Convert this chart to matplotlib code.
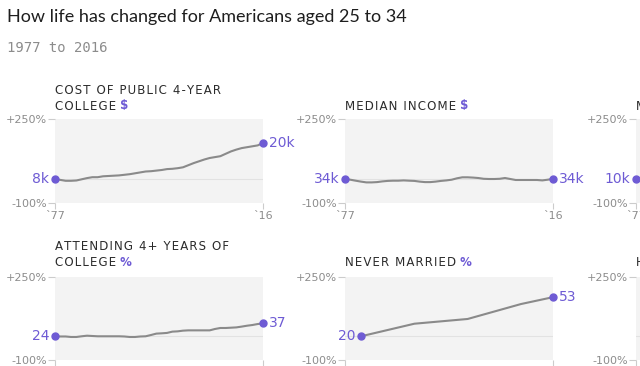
import matplotlib
matplotlib.use('Agg')
import matplotlib.pyplot as plt

W, H = 640, 366
PURPLE = '#6E5BD4'
LINE = '#8a8a8a'
HAIR = '\u200a'

years = list(range(1977, 2017))

# cost of public 4-year college, thousands of $
college_cost = [8.0, 7.7, 7.4, 7.4, 7.5, 7.9, 8.3, 8.6, 8.6, 8.9,
                9.0, 9.1, 9.2, 9.4, 9.6, 9.9, 10.2, 10.5, 10.6, 10.8,
                11.0, 11.3, 11.4, 11.6, 11.9, 12.6, 13.3, 13.9, 14.5, 15.0,
                15.3, 15.6, 16.4, 17.2, 17.8, 18.3, 18.6, 18.9, 19.2, 20.0]

# median income, thousands of $
median_income = [34.0, 33.0, 31.6, 30.3, 29.2, 29.2, 29.6, 30.6, 31.3, 31.6,
                 31.6, 32.0, 31.6, 31.3, 30.3, 29.6, 29.6, 30.3, 31.3, 32.0,
                 33.0, 35.0, 36.4, 36.4, 36.0, 35.4, 34.3, 34.0, 34.0, 34.3,
                 35.4, 34.0, 32.6, 32.6, 32.6, 32.6, 32.6, 32.0, 33.0, 34.2]

# attending 4+ years of college, %
attending = [24.0, 23.8, 23.8, 23.3, 23.3, 24.0, 24.6, 24.3, 24.0, 24.0,
             24.0, 24.0, 24.0, 23.8, 23.3, 23.3, 23.8, 24.0, 25.3, 26.7,
             27.0, 27.4, 28.7, 29.0, 29.7, 30.0, 30.0, 30.0, 30.0, 30.0,
             31.4, 32.4, 32.4, 32.7, 33.0, 33.8, 34.7, 35.4, 36.4, 37.0]

# never married, %
married_years = [1980, 1990, 2000, 2010, 2016]
never_married = [20.0, 30.6, 34.6, 47.2, 53.0]

# third column, only its first point shows at the edge
third_years = [1977]
third_values = [10.0]


def px(x, y):
    return x / W, 1 - y / H


def fmt(v, unit):
    if unit == '$':
        return '%.0fk' % v
    return '%.0f' % v


def spaced(s):
    # fake letter spacing with hair spaces
    return HAIR.join(s)


def panel(left, top, bottom, xs, vals, unit, title_lines, title_y,
          show_end=True):
    ax = fig.add_axes([left / W, 1 - bottom / H, 208 / W, (bottom - top) / H])
    ax.set_facecolor('#f3f3f3')
    for s in ax.spines.values():
        s.set_visible(False)
    ax.set_xlim(1977, 2016)
    ax.set_ylim(-100, 250)
    ax.axhline(0, color='#e2e2e2', lw=0.8, zorder=1)
    ax.set_yticks([-100, 250])
    ax.set_yticklabels(['-100%', '+250%'])
    ax.set_xticks([1977, 2016])
    ax.set_xticklabels(['`77', '`16'])
    ax.tick_params(axis='y', length=5, color='#cccccc', labelcolor='#8c8c8c',
                   labelsize=8, pad=1)
    ax.tick_params(axis='x', length=4, color='#cccccc', labelcolor='#8c8c8c',
                   labelsize=8, pad=2)

    if xs is not None:
        v0 = vals[0]
        pct = [(v / v0 - 1) * 100 for v in vals]
        ax.plot(xs, pct, color=LINE, lw=1.5, zorder=2, clip_on=False)
        ax.plot(xs[0], pct[0], 'o', color=PURPLE, ms=5, zorder=3, clip_on=False)
        ax.annotate(fmt(vals[0], unit), (xs[0], pct[0]), xytext=(-4, 0),
                    textcoords='offset points', ha='right', va='center',
                    color=PURPLE, fontsize=10, annotation_clip=False)
        if show_end:
            ax.plot(xs[-1], pct[-1], 'o', color=PURPLE, ms=5, zorder=3,
                    clip_on=False)
            ax.annotate(fmt(vals[-1], unit), (xs[-1], pct[-1]), xytext=(4, 0),
                        textcoords='offset points', ha='left', va='center',
                        color=PURPLE, fontsize=10, annotation_clip=False)

    # panel title, unit sign in purple
    n = len(title_lines)
    for i, line in enumerate(title_lines):
        y = title_y - (n - 1 - i) * 16
        t = fig.text(*px(left, y), spaced(line), ha='left', va='center',
                     fontsize=8.5, color='#2b2b2b')
        if i == n - 1 and unit:
            ax.annotate(' ' + unit, xy=(1, 0.5), xycoords=t,
                        ha='left', va='center', fontsize=8.5,
                        color=PURPLE, fontweight='bold',
                        annotation_clip=False)
    return ax


fig = plt.figure(figsize=(W / 100, H / 100), dpi=100)
fig.patch.set_facecolor('white')

fig.text(*px(7, 17), 'How life has changed for Americans aged 25 to 34',
         ha='left', va='center', fontsize=13, color='#1e1e1e', family='Lato')
fig.text(*px(7, 48), '1977 to 2016', ha='left', va='center',
         fontsize=10, color='#8c8c8c', family='DejaVu Sans Mono')

panel(55, 119, 203, years, college_cost, '$',
      ['COST OF PUBLIC 4-YEAR', 'COLLEGE'], 106)
panel(345, 119, 203, years, median_income, '$', ['MEDIAN INCOME'], 106)
panel(636, 119, 203, third_years, third_values, '$', ['M'], 106,
      show_end=False)

panel(55, 277, 360, years, attending, '%',
      ['ATTENDING 4+ YEARS OF', 'COLLEGE'], 262)
panel(345, 277, 360, married_years, never_married, '%', ['NEVER MARRIED'], 262)
panel(636, 277, 360, None, None, '', ['H'], 262)

fig.savefig('out.png', dpi=100)
